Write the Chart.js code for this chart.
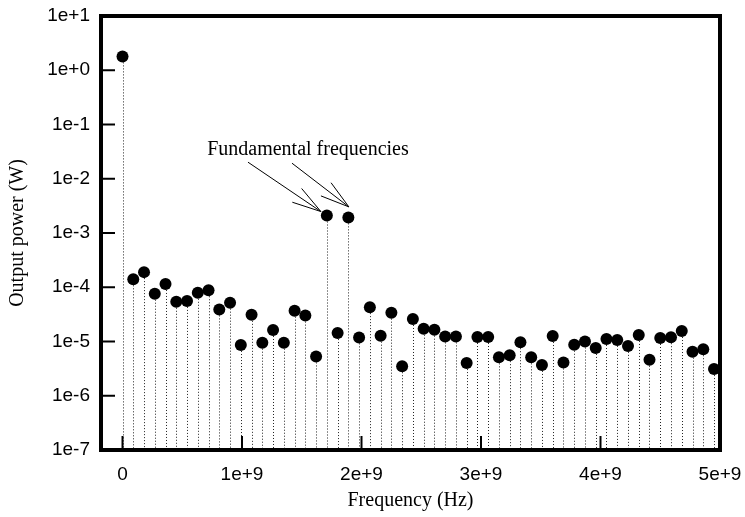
<!DOCTYPE html>
<html>
<head>
<meta charset="utf-8">
<script src="https://cdn.jsdelivr.net/npm/chart.js@4/dist/chart.umd.min.js"></script>
<style>
  html, body { margin: 0; padding: 0; background: #fff; }
  #wrap { width: 745px; height: 517px; }
</style>
</head>
<body>
<div id="wrap"><canvas id="spectrumChart"></canvas></div>
<script>
// spectrum data: frequency bins (MHz) and measured output power (W)
const freqMHz = [
    0, 90, 180, 270, 360, 450, 540, 630, 720, 810,
    900, 990, 1080, 1170, 1260, 1350, 1440, 1530, 1620, 1710,
    1800, 1890, 1980, 2070, 2160, 2250, 2340, 2430, 2520, 2610,
    2700, 2790, 2880, 2970, 3060, 3150, 3240, 3330, 3420, 3510,
    3600, 3690, 3780, 3870, 3960, 4050, 4140, 4230, 4320, 4410,
    4500, 4590, 4680, 4770, 4860, 4950
];

const powerW = [
    1.8, 1.4e-4, 1.9e-4, 7.6e-5, 1.15e-4, 5.4e-5, 5.6e-5, 7.9e-5, 8.8e-5, 3.9e-5,
    5.2e-5, 8.6e-6, 3.1e-5, 9.5e-6, 1.63e-5, 9.5e-6, 3.7e-5, 3.0e-5, 5.3e-6, 2.1e-3,
    1.43e-5, 1.94e-3, 1.19e-5, 4.3e-5, 1.28e-5, 3.4e-5, 3.5e-6, 2.6e-5, 1.72e-5, 1.65e-5,
    1.24e-5, 1.24e-5, 4.0e-6, 1.21e-5, 1.21e-5, 5.1e-6, 5.6e-6, 9.7e-6, 5.1e-6, 3.7e-6,
    1.26e-5, 4.1e-6, 8.7e-6, 1.0e-5, 7.6e-6, 1.11e-5, 1.07e-5, 8.3e-6, 1.32e-5, 4.6e-6,
    1.16e-5, 1.2e-5, 1.56e-5, 6.5e-6, 7.2e-6, 3.1e-6
];

// axis ticks
const xTickValues = [0, 1e9, 2e9, 3e9, 4e9, 5e9];
const xTickLabels = ["0", "1e+9", "2e+9", "3e+9", "4e+9", "5e+9"];
const yTickValues = [1e1, 1e0, 1e-1, 1e-2, 1e-3, 1e-4, 1e-5, 1e-6, 1e-7];
const yTickLabels = ["1e+1", "1e+0", "1e-1", "1e-2", "1e-3", "1e-4", "1e-5", "1e-6", "1e-7"];

// note pointing at the two fundamentals (indices into the data)
const noteText = "Fundamental frequencies";
const noteAt = { x: 1.552e9, y: 0.0272 };
const noteTargets = [19, 21];

const points = freqMHz.map((f, i) => ({ x: f * 1e6, y: powerW[i] }));

function arrow(ctx, x0, y0, x1, y1) {
    const a = Math.atan2(y1 - y0, x1 - x0);
    const len = 30, spread = 0.28;
    ctx.beginPath();
    ctx.moveTo(x0, y0);
    ctx.lineTo(x1, y1);
    ctx.moveTo(x1 - len * Math.cos(a - spread), y1 - len * Math.sin(a - spread));
    ctx.lineTo(x1, y1);
    ctx.lineTo(x1 - len * Math.cos(a + spread), y1 - len * Math.sin(a + spread));
    ctx.stroke();
}

const framePlugin = {
    id: "frame",
    beforeDatasetsDraw(chart) {
        // dotted stems from every point down to the bottom axis
        const { ctx, chartArea } = chart;
        ctx.save();
        ctx.strokeStyle = "#222";
        ctx.lineWidth = 1;
        ctx.setLineDash([1, 2]);
        chart.getDatasetMeta(0).data.forEach(pt => {
            const x = Math.round(pt.x) + 0.5;
            ctx.beginPath();
            ctx.moveTo(x, pt.y);
            ctx.lineTo(x, chartArea.bottom);
            ctx.stroke();
        });
        ctx.restore();
    },
    afterDraw(chart) {
        const { ctx, chartArea: a, scales } = chart;
        ctx.save();
        ctx.strokeStyle = "#000";

        // inward tick marks
        ctx.lineWidth = 2;
        scales.y.ticks.forEach(t => {
            const y = scales.y.getPixelForValue(t.value);
            ctx.beginPath();
            ctx.moveTo(a.left, y);
            ctx.lineTo(a.left + 14, y);
            ctx.stroke();
        });
        scales.x.ticks.forEach(t => {
            const x = scales.x.getPixelForValue(t.value);
            ctx.beginPath();
            ctx.moveTo(x, a.bottom);
            ctx.lineTo(x, a.bottom - 14);
            ctx.stroke();
        });

        // heavy box round the plot
        ctx.lineWidth = 4;
        ctx.strokeRect(a.left, a.top, a.right - a.left, a.bottom - a.top);

        // annotation
        const tx = scales.x.getPixelForValue(noteAt.x);
        const ty = scales.y.getPixelForValue(noteAt.y);
        ctx.fillStyle = "#000";
        ctx.font = "20px 'Liberation Serif'";
        ctx.textAlign = "center";
        ctx.textBaseline = "alphabetic";
        ctx.fillText(noteText, tx, ty);

        const meta = chart.getDatasetMeta(0);
        const p1 = meta.data[noteTargets[0]];
        const p2 = meta.data[noteTargets[1]];
        ctx.lineWidth = 1;
        arrow(ctx, tx - 60, ty + 7, p1.x - 6, p1.y - 4);
        arrow(ctx, tx - 16, ty + 8, p2.x + 0.5, p2.y - 10.5);
        ctx.restore();
    }
};

document.addEventListener("DOMContentLoaded", function() {
    const ctx = document.getElementById("spectrumChart").getContext("2d");
    new Chart(ctx, {
        type: "scatter",
        data: {
            datasets: [{
                label: "Output power",
                data: points,
                pointRadius: 6,
                pointHoverRadius: 6,
                pointBackgroundColor: "#000",
                pointBorderWidth: 0,
                showLine: false
            }]
        },
        options: {
            responsive: true,
            maintainAspectRatio: false,
            animation: false,
            layout: { padding: { left: 0, right: 25, top: 16, bottom: 0 } },
            plugins: {
                legend: { display: false },
                tooltip: { enabled: false }
            },
            scales: {
                x: {
                    type: "linear",
                    min: -1.8e8,
                    max: 5e9,
                    afterBuildTicks: s => { s.ticks = xTickValues.map(v => ({ value: v })); },
                    afterFit: s => { s.height = 67; s.paddingLeft = 0; s.paddingRight = 0; },
                    grid: { display: false, drawTicks: false },
                    border: { display: false },
                    ticks: {
                        autoSkip: false,
                        maxRotation: 0,
                        padding: 13,
                        color: "#000",
                        font: { family: "'Liberation Sans'", size: 19 },
                        callback: (v, i) => xTickLabels[i]
                    },
                    title: {
                        display: true,
                        text: "Frequency (Hz)",
                        color: "#000",
                        font: { family: "'Liberation Serif'", size: 20 },
                        padding: { top: 0, bottom: 4 }
                    }
                },
                y: {
                    type: "logarithmic",
                    min: 1e-7,
                    max: 1e1,
                    afterBuildTicks: s => { s.ticks = yTickValues.map(v => ({ value: v })); },
                    afterFit: s => { s.width = 101; s.paddingTop = 0; s.paddingBottom = 0; },
                    grid: { display: false, drawTicks: false },
                    border: { display: false },
                    ticks: {
                        autoSkip: false,
                        padding: 11,
                        color: "#000",
                        font: { family: "'Liberation Sans'", size: 19 },
                        callback: (v, i) => yTickLabels[i]
                    },
                    title: {
                        display: true,
                        text: "Output power (W)",
                        color: "#000",
                        font: { family: "'Liberation Serif'", size: 20 },
                        padding: { top: 6, bottom: 0 }
                    }
                }
            }
        },
        plugins: [framePlugin]
    });
});
</script>
</body>
</html>
